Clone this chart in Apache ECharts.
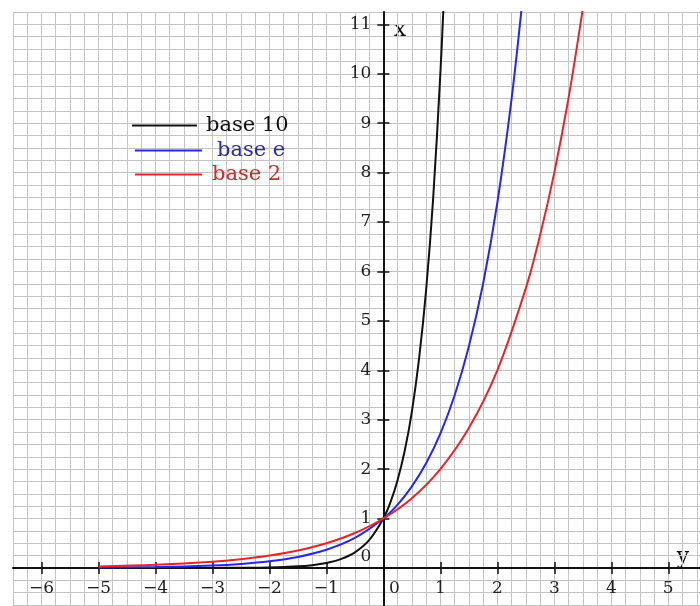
<!DOCTYPE html>
<html>
<head>
<meta charset="utf-8">
<script src="https://cdn.jsdelivr.net/npm/echarts@6.0.0/dist/echarts.min.js"></script>
<style>
html,body{margin:0;padding:0;background:#fff;}
#chart{width:700px;height:606px;}
</style>
</head>
<body>
<div id="chart"></div>
<script>
// ---- data ----
const seriesNames = ['base 10', 'base e', 'base 2'];
const base10X = [-5, -4, -3, -2.5, -2, -1.5, -1.25, -1, -0.75, -0.5, -0.25, 0, 0.125, 0.25, 0.375, 0.5, 0.625, 0.75, 0.875, 1, 1.06];
const base10Y = [0.00001, 0.0001, 0.001, 0.0032, 0.01, 0.032, 0.056, 0.1, 0.178, 0.316, 0.562, 1, 1.33, 1.78, 2.37, 3.16, 4.22, 5.62, 7.5, 10, 11.48];
const baseEX = [-5, -4, -3, -2.5, -2, -1.5, -1, -0.5, 0, 0.25, 0.5, 0.75, 1, 1.25, 1.5, 1.75, 2, 2.25, 2.45];
const baseEY = [0.0067, 0.018, 0.05, 0.082, 0.135, 0.223, 0.368, 0.607, 1, 1.28, 1.65, 2.12, 2.72, 3.49, 4.48, 5.75, 7.39, 9.49, 11.59];
const base2X = [-5, -4, -3, -2.5, -2, -1.5, -1, -0.5, 0, 0.5, 1, 1.5, 2, 2.5, 2.75, 3, 3.25, 3.5, 3.55];
const base2Y = [0.031, 0.063, 0.125, 0.177, 0.25, 0.354, 0.5, 0.707, 1, 1.41, 2, 2.83, 4, 5.66, 6.73, 8, 9.51, 11.31, 11.71];
const xTicks = [-6, -5, -4, -3, -2, -1, 0, 1, 2, 3, 4, 5];
const yTicks = [0, 1, 2, 3, 4, 5, 6, 7, 8, 9, 10, 11];

const FONT = 'DejaVu Serif';
const X_MIN = -6.5, X_MAX = 5.75, Y_MIN = -0.75, Y_MAX = 11.25, GRID_STEP = 0.25;
const G_LEFT = 13, G_TOP = 12, G_W = 698, G_H = 593;
// pixel offsets that bring the axes onto the zero lines
const xZeroPx = G_LEFT + (0 - X_MIN) / (X_MAX - X_MIN) * G_W;
const yZeroPx = G_TOP + (Y_MAX - 0) / (Y_MAX - Y_MIN) * G_H;
const offBottom = -(G_TOP + G_H - yZeroPx);
const offTop = -(yZeroPx - G_TOP);
const offLeft = -(xZeroPx - G_LEFT);
const offRight = -(G_LEFT + G_W - xZeroPx);

function pairs(xs, ys) { return xs.map((x, i) => [x, ys[i]]); }
function fmtNum(v) { return v < 0 ? '\u2212' + Math.abs(v) : String(v); }

const chart = echarts.init(document.getElementById('chart'), null, {renderer: 'canvas'});

const gridLine = {show: true, lineStyle: {color: '#c4c4c4', width: 1}};
const axisLineStyle = {color: '#111', width: 2};
const tickStyle = {color: '#111', width: 1.5};
const LBL = 17;

const option = {
  animation: false,
  backgroundColor: '#fff',
  grid: {left: G_LEFT, top: G_TOP, width: G_W, height: G_H, containLabel: false, outerBoundsMode: 'none'},
  legend: [
    {data: [seriesNames[0]], left: 132, top: 115, padding: 0, icon: 'rect', itemWidth: 65, itemHeight: 2, selectedMode: false,
      textStyle: {fontFamily: FONT, fontSize: 21, color: '#111', padding: [0, 0, 0, 4]}},
    {data: [seriesNames[1]], left: 135, top: 140, padding: 0, icon: 'rect', itemWidth: 67, itemHeight: 2, selectedMode: false,
      textStyle: {fontFamily: FONT, fontSize: 21, color: '#2a2ab0', padding: [0, 0, 0, 10]}},
    {data: [seriesNames[2]], left: 135, top: 164, padding: 0, icon: 'rect', itemWidth: 67, itemHeight: 2, selectedMode: false,
      textStyle: {fontFamily: FONT, fontSize: 21, color: '#d02a2a', padding: [0, 0, 0, 5]}}
  ],
  xAxis: [
    { // grid lines every 0.25
      type: 'value', min: X_MIN, max: X_MAX, interval: GRID_STEP,
      axisLine: {show: false}, axisTick: {show: false}, axisLabel: {show: false},
      splitLine: gridLine
    },
    { // main axis on y = 0: line, downward ticks, labels
      type: 'value', min: X_MIN, max: X_MAX, position: 'bottom', offset: offBottom,
      axisLine: {show: true, onZero: false, lineStyle: axisLineStyle},
      axisTick: {show: true, inside: false, length: 6, customValues: xTicks, lineStyle: tickStyle},
      axisLabel: {show: true, customValues: xTicks, margin: 12, fontFamily: FONT, fontSize: LBL, color: '#222',
        formatter: v => v === 0 ? '{z|0}' : fmtNum(v),
        rich: {z: {fontFamily: FONT, fontSize: LBL, color: '#222', padding: [0, 0, 0, 22]}}},
      splitLine: {show: false}
    },
    { // upward ticks on y = 0
      type: 'value', min: X_MIN, max: X_MAX, position: 'top', offset: offTop,
      axisLine: {show: false, onZero: false},
      axisTick: {show: true, inside: false, length: 6, customValues: xTicks, lineStyle: tickStyle},
      axisLabel: {show: false}, splitLine: {show: false}
    }
  ],
  yAxis: [
    {
      type: 'value', min: Y_MIN, max: Y_MAX, interval: GRID_STEP,
      axisLine: {show: false}, axisTick: {show: false}, axisLabel: {show: false},
      splitLine: gridLine
    },
    {
      type: 'value', min: Y_MIN, max: Y_MAX, position: 'left', offset: offLeft,
      axisLine: {show: true, onZero: false, lineStyle: axisLineStyle},
      axisTick: {show: true, inside: false, length: 6, customValues: yTicks, lineStyle: tickStyle},
      axisLabel: {show: true, customValues: yTicks, margin: 12, fontFamily: FONT, fontSize: LBL, color: '#222',
        formatter: v => v === 0 ? '{z|0}' : fmtNum(v),
        rich: {z: {fontFamily: FONT, fontSize: LBL, color: '#222', padding: [0, 0, 22, 0]}}},
      splitLine: {show: false}
    },
    {
      type: 'value', min: Y_MIN, max: Y_MAX, position: 'right', offset: offRight,
      axisLine: {show: false, onZero: false},
      axisTick: {show: true, inside: false, length: 6, customValues: yTicks, lineStyle: tickStyle},
      axisLabel: {show: false}, splitLine: {show: false}
    }
  ],
  graphic: [
    {type: 'text', x: 400, y: 30, style: {text: 'x', font: '22px "' + FONT + '"', fill: '#111', align: 'center', verticalAlign: 'middle'}},
    {type: 'text', x: 683, y: 557, style: {text: 'y', font: '22px "' + FONT + '"', fill: '#111', align: 'center', verticalAlign: 'middle'}}
  ],
  series: [
    {name: seriesNames[0], type: 'line', xAxisIndex: 1, yAxisIndex: 1, data: pairs(base10X, base10Y),
      showSymbol: false, symbol: 'none', smooth: 0.35, clip: true,
      lineStyle: {color: '#111', width: 2}, itemStyle: {color: '#111'}},
    {name: seriesNames[1], type: 'line', xAxisIndex: 1, yAxisIndex: 1, data: pairs(baseEX, baseEY),
      showSymbol: false, symbol: 'none', smooth: 0.35, clip: true,
      lineStyle: {color: '#2626f0', width: 2}, itemStyle: {color: '#2626f0'}},
    {name: seriesNames[2], type: 'line', xAxisIndex: 1, yAxisIndex: 1, data: pairs(base2X, base2Y),
      showSymbol: false, symbol: 'none', smooth: 0.35, clip: true,
      lineStyle: {color: '#e8242a', width: 2}, itemStyle: {color: '#e8242a'}}
  ]
};
chart.setOption(option);
</script>
</body>
</html>
